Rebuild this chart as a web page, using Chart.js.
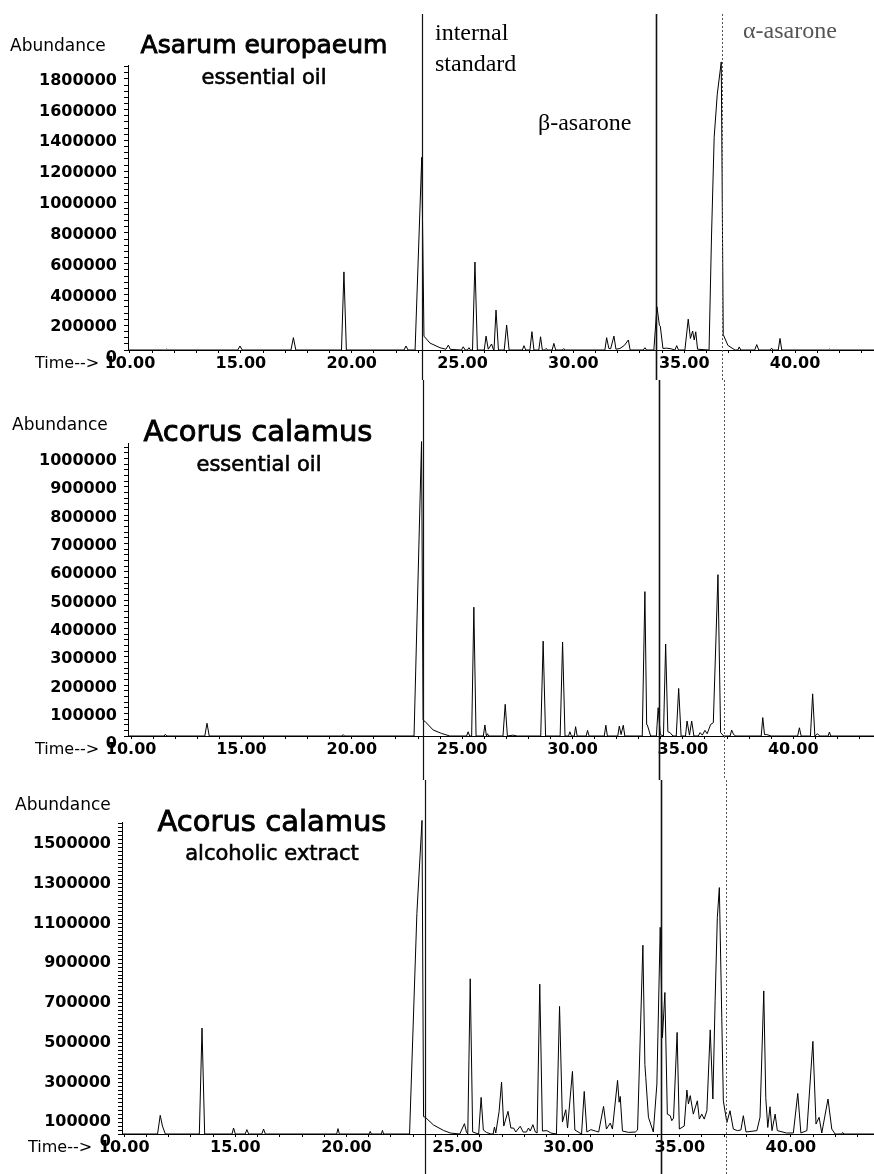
<!DOCTYPE html>
<html>
<head>
<meta charset="utf-8">
<script src="https://cdn.jsdelivr.net/npm/chart.js@4.4.1/dist/chart.umd.min.js"></script>
<style>
    html, body { margin: 0; padding: 0; background: #fff; }
    #page { position: relative; width: 874px; height: 1174px; overflow: hidden; background: #fff; }
    canvas { position: absolute; left: 0; }
</style>
</head>
<body>
<div id="page">
    <canvas id="panel1" width="874" height="380" style="top:0px"></canvas>
    <canvas id="panel2" width="874" height="400" style="top:380px"></canvas>
    <canvas id="panel3" width="874" height="394" style="top:780px"></canvas>
</div>
<script>
// -----------------------------
// Data: [time (min), abundance]
// -----------------------------
const asarumOil = [
    [9.91,0],[11.6,0],[11.65,6000],[11.7,0],
    [14.86,0],[14.96,26000],[15.06,0],
    [17.26,0],[17.37,80000],[17.48,0],
    [19.54,0],[19.65,507000],[19.76,0],
    [22.36,0],[22.45,26000],[22.54,0],
    [22.86,0],[23.16,1251000],[23.26,90000],[23.53,45000],[23.98,15000],[24.25,5000],[24.36,32000],[24.45,4000],
    [24.95,0],[25.03,21000],[25.12,0],[25.22,0],[25.29,15000],[25.36,0],
    [25.45,0],[25.56,571000],[25.67,0],
    [25.98,0],[26.06,90000],[26.16,5000],[26.31,39000],[26.4,0],[26.42,0],[26.51,259000],[26.62,0],
    [26.88,0],[26.99,162000],[27.1,0],
    [27.7,0],[27.77,28000],[27.85,0],
    [28.04,0],[28.13,119000],[28.22,0],[28.44,0],[28.52,86000],[28.6,0],[28.7,0],[28.76,10000],[28.85,0],
    [29.04,0],[29.12,43000],[29.2,0],[29.5,0],[29.55,8000],[29.65,0],
    [31.42,0],[31.5,80000],[31.6,10000],[31.68,8000],[31.83,90000],[31.92,5000],
    [32.1,10000],[32.3,30000],[32.48,65000],[32.56,0],
    [33.15,0],[33.23,15000],[33.3,0],
    [33.63,0],[33.77,280000],[33.88,160000],[33.92,155000],[34.04,10000],[34.2,12000],[34.4,8000],[34.58,0],[34.66,28000],[34.74,0],
    [35.03,0],[35.18,200000],[35.28,75000],[35.38,123000],[35.45,65000],[35.52,118000],[35.6,5000],
    [36.12,0],[36.23,734000],[36.35,1380000],[36.49,1660000],[36.67,1870000],[36.76,100000],[36.97,30000],[37.29,0],
    [37.42,0],[37.48,20000],[37.55,0],
    [38.18,0],[38.27,35000],[38.36,0],
    [38.88,0],[38.94,12000],[39.0,0],
    [39.24,0],[39.32,75000],[39.4,0],
    [41.5,0],[41.55,6000],[41.6,0],[43.56,0]
];

const calamusOil = [
    [9.86,0],[11.5,0],[11.55,6000],[11.62,0],
    [13.34,0],[13.44,45000],[13.54,0],
    [19.55,0],[19.61,5000],[19.67,0],
    [22.82,0],[23.16,1040000],[23.23,56000],[23.31,52000],[23.69,21000],[24.07,9000],[24.44,0],
    [25.2,0],[25.27,15000],[25.34,0],
    [25.43,0],[25.53,455000],[25.63,0],
    [25.96,0],[26.03,39000],[26.1,0],[26.15,8000],[26.2,0],
    [26.85,0],[26.95,112000],[27.05,0],
    [27.3,3000],[27.5,0],
    [28.56,0],[28.67,335000],[28.78,0],
    [29.44,0],[29.55,332000],[29.66,0],
    [29.82,0],[29.88,15000],[29.95,0],
    [30.08,0],[30.14,33000],[30.21,0],
    [30.62,0],[30.68,20000],[30.75,0],
    [31.44,0],[31.51,38000],[31.58,0],
    [32.05,0],[32.12,35000],[32.2,5000],[32.3,38000],[32.37,0],
    [33.16,0],[33.28,510000],[33.36,40000],[33.39,39000],[33.54,0],
    [33.8,0],[33.88,100000],[33.98,5000],
    [34.12,0],[34.22,325000],[34.32,15000],[34.42,12000],[34.55,0],
    [34.7,0],[34.81,168000],[34.92,0],
    [35.12,0],[35.19,53000],[35.3,3000],[35.4,53000],[35.5,0],
    [35.7,0],[35.78,12000],[35.88,3000],[36.0,20000],[36.1,8000],[36.26,41000],[36.38,47000],[36.59,570000],[36.71,12000],[36.85,0],
    [37.14,0],[37.21,21000],[37.3,5000],[37.4,0],
    [38.55,0],[38.62,65000],[38.7,5000],[38.8,5000],[39.0,0],
    [40.2,0],[40.28,29000],[40.36,0],
    [40.78,0],[40.88,149000],[40.98,0],[41.1,8000],[41.2,0],
    [41.58,0],[41.64,14000],[41.7,0],[43.66,0]
];

const calamusExtract = [
    [9.9,0],[11.5,0],[11.62,94000],[11.72,40000],[11.85,0],
    [13.38,0],[13.5,533000],[13.62,0],
    [14.85,0],[14.92,30000],[15.0,0],
    [15.44,0],[15.52,22000],[15.6,0],
    [16.19,0],[16.27,25000],[16.35,0],
    [19.56,0],[19.62,27000],[19.68,0],
    [21.02,0],[21.07,13000],[21.12,0],
    [21.57,0],[21.62,18000],[21.67,0],
    [22.84,0],[23.17,1110000],[23.4,1578000],[23.47,87000],[23.54,85000],[23.92,45000],[24.37,18000],[24.67,5000],[25.1,0],
    [25.31,52000],[25.4,10000],
    [25.46,0],[25.57,781000],[25.68,10000],
    [25.95,0],[26.06,184000],[26.16,20000],[26.3,8000],[26.5,0],
    [26.6,0],[26.66,35000],[26.72,5000],[26.87,114000],[26.98,261000],[27.08,40000],[27.27,114000],[27.4,30000],[27.52,30000],[27.62,10000],
    [27.82,39000],[27.95,10000],[28.1,10000],[28.19,30000],[28.27,15000],[28.39,47000],[28.5,10000],
    [28.58,5000],[28.7,754000],[28.82,15000],[29.02,17000],[29.2,5000],
    [29.45,0],[29.59,642000],[29.72,60000],[29.87,122000],[29.95,30000],[30.17,315000],[30.28,20000],
    [30.58,0],[30.7,214000],[30.82,10000],[31.0,22000],[31.2,15000],[31.35,10000],
    [31.57,139000],[31.7,25000],[31.87,55000],[31.97,25000],[32.2,270000],[32.27,160000],[32.32,189000],[32.42,15000],
    [32.7,8000],[33.0,10000],[33.1,20000],[33.34,950000],[33.43,350000],[33.47,285000],[33.59,84000],[33.81,10000],
    [33.97,251000],[34.12,1040000],[34.22,485000],[34.33,712000],[34.44,100000],[34.57,92000],[34.64,67000],[34.72,80000],
    [34.88,511000],[34.98,25000],
    [35.2,40000],[35.32,221000],[35.39,151000],[35.47,193000],[35.61,100000],[35.79,167000],[35.88,75000],[35.99,100000],[36.1,75000],[36.22,117000],
    [36.37,524000],[36.49,176000],[36.59,670000],[36.69,1090000],[36.78,1240000],[36.89,586000],[36.96,167000],[37.12,58000],[37.26,117000],[37.41,25000],[37.59,17000],
    [37.75,20000],[37.86,92000],[37.98,10000],
    [38.47,17000],[38.61,84000],[38.78,720000],[38.87,184000],[38.96,33000],[39.06,137000],[39.15,17000],[39.29,100000],[39.39,17000],[39.8,5000],[40.11,5000],
    [40.31,204000],[40.45,5000],[40.72,17000],[40.99,466000],[41.13,50000],[41.27,84000],[41.39,5000],[41.67,176000],[41.84,25000],[41.99,0],
    [42.28,0],[42.33,8000],[42.38,0],[43.74,0]
];

// tick labels
const timeLabels = [10, 15, 20, 25, 30, 35, 40];
const abundLabels1 = [0, 200000, 400000, 600000, 800000, 1000000, 1200000, 1400000, 1600000, 1800000];
const abundLabels2 = [0, 100000, 200000, 300000, 400000, 500000, 600000, 700000, 800000, 900000, 1000000];
const abundLabels3 = [0, 100000, 300000, 500000, 700000, 900000, 1100000, 1300000, 1500000];

// retention times of the marker lines (internal standard, beta-asarone, alpha-asarone) in each run
const markers1 = [23.16, 33.74, 36.69];
const markers2 = [23.23, 33.92, 36.86];
const markers3 = [23.54, 34.16, 37.09];

// -----------------------------
// Plugins: marker lines and free text
// -----------------------------
const markerStyles = [
    { color: '#111', width: 1.2, dash: [] },
    { color: '#111', width: 1.6, dash: [] },
    { color: '#555', width: 1, dash: [2, 2] }
];

const markerLines = {
    id: 'markerLines',
    afterDatasetsDraw(chart, args, opts) {
        const ctx = chart.ctx;
        const xs = chart.scales.x;
        ctx.save();
        opts.times.forEach((t, i) => {
            const st = markerStyles[i];
            const px = Math.round(xs.getPixelForValue(t)) + 0.5;
            ctx.strokeStyle = st.color;
            ctx.lineWidth = st.width;
            ctx.setLineDash(st.dash);
            ctx.beginPath();
            ctx.moveTo(px, opts.top || 0);
            ctx.lineTo(px, chart.height);
            ctx.stroke();
        });
        ctx.restore();
    }
};

const panelText = {
    id: 'panelText',
    afterDraw(chart, args, opts) {
        const ctx = chart.ctx;
        ctx.save();
        opts.items.forEach(it => {
            ctx.font = it.font;
            ctx.fillStyle = it.color || '#000';
            ctx.textAlign = it.align || 'left';
            ctx.textBaseline = 'alphabetic';
            ctx.fillText(it.text, it.x, it.y);
            // titles are printed a little heavier than the regular face
            if (it.heavy) {
                ctx.strokeStyle = it.color || '#000';
                ctx.lineWidth = it.heavy;
                ctx.strokeText(it.text, it.x, it.y);
            }
        });
        ctx.restore();
    }
};

// -----------------------------
// Builds one chromatogram panel
// -----------------------------
function Crear_Panel(canvasId, series, cfg) {
    const tickFont = { family: 'DejaVu Sans', size: 16, weight: 'bold' };
    return new Chart(document.getElementById(canvasId), {
        type: 'line',
        data: {
            datasets: [{
                data: series.map(p => ({ x: p[0], y: p[1] })),
                borderColor: '#000',
                borderWidth: 1,
                pointRadius: 0,
                tension: 0,
                fill: false,
                clip: false
            }]
        },
        options: {
            responsive: false,
            animation: false,
            events: [],
            layout: { padding: { top: cfg.top, right: 0, bottom: 0, left: 0 } },
            plugins: {
                legend: { display: false },
                tooltip: { enabled: false },
                markerLines: { times: cfg.markers, top: cfg.markerTop },
                panelText: { items: cfg.texts }
            },
            scales: {
                x: {
                    type: 'linear',
                    min: cfg.xMin,
                    max: cfg.xMax,
                    afterFit: s => { s.height = cfg.xHeight; },
                    afterBuildTicks: s => {
                        const out = [];
                        for (let v = Math.ceil(s.min); v <= s.max; v++) out.push({ value: v });
                        s.ticks = out;
                    },
                    border: { color: '#000', width: 1 },
                    grid: { drawOnChartArea: false, color: '#000', tickLength: 3 },
                    ticks: {
                        autoSkip: false,
                        maxRotation: 0,
                        padding: 1,
                        color: '#000',
                        font: tickFont,
                        callback: v => timeLabels.includes(v) ? v.toFixed(2) : ''
                    }
                },
                y: {
                    type: 'linear',
                    min: 0,
                    max: cfg.yMax,
                    afterFit: s => { s.width = cfg.yWidth; },
                    afterBuildTicks: s => {
                        const out = [];
                        for (let i = 0; i * cfg.yStep <= cfg.yMax; i++) out.push({ value: i * cfg.yStep });
                        s.ticks = out;
                    },
                    border: { color: '#000', width: 1 },
                    grid: { drawOnChartArea: false, color: '#000', tickLength: 4 },
                    ticks: {
                        autoSkip: false,
                        padding: 7,
                        labelOffset: 8,
                        color: '#000',
                        font: tickFont,
                        callback: v => cfg.yLabels.includes(Math.round(v)) ? String(Math.round(v)) : ''
                    }
                }
            }
        },
        plugins: [markerLines, panelText]
    });
}

const sans = '"DejaVu Sans", sans-serif';
const serif = '24px "Liberation Serif", serif';

Crear_Panel('panel1', asarumOil, {
    top: 65, xHeight: 30, yWidth: 128,
    xMin: 9.91, xMax: 43.56, yMax: 1850000, yStep: 40000, yLabels: abundLabels1,
    markers: markers1, markerTop: 14,
    texts: [
        { text: 'Abundance', x: 10, y: 51, font: '17px ' + sans },
        { text: 'Asarum europaeum', x: 264, y: 53, font: '25px ' + sans, align: 'center', heavy: 0.9 },
        { text: 'essential oil', x: 264, y: 84, font: '21px ' + sans, align: 'center', heavy: 0.6 },
        { text: 'Time-->', x: 35, y: 368, font: '16px ' + sans },
        { text: 'internal', x: 435, y: 40, font: serif },
        { text: 'standard', x: 435, y: 71, font: serif },
        { text: 'β-asarone', x: 538, y: 130, font: serif },
        { text: 'α-asarone', x: 743, y: 38, font: serif, color: '#555' }
    ]
});

Crear_Panel('panel2', calamusOil, {
    top: 63, xHeight: 44, yWidth: 128,
    xMin: 9.86, xMax: 43.66, yMax: 1035000, yStep: 20000, yLabels: abundLabels2,
    markers: markers2, markerTop: 0,
    texts: [
        { text: 'Abundance', x: 12, y: 50, font: '17px ' + sans },
        { text: 'Acorus calamus', x: 258, y: 61, font: '29px ' + sans, align: 'center', heavy: 0.9 },
        { text: 'essential oil', x: 259, y: 91, font: '21px ' + sans, align: 'center', heavy: 0.6 },
        { text: 'Time-->', x: 35, y: 374, font: '16px ' + sans }
    ]
});

Crear_Panel('panel3', calamusExtract, {
    top: 42, xHeight: 40, yWidth: 122,
    xMin: 9.9, xMax: 43.74, yMax: 1570000, yStep: 20000, yLabels: abundLabels3,
    markers: markers3, markerTop: 0,
    texts: [
        { text: 'Abundance', x: 15, y: 30, font: '17px ' + sans },
        { text: 'Acorus calamus', x: 272, y: 51, font: '29px ' + sans, align: 'center', heavy: 0.9 },
        { text: 'alcoholic extract', x: 272, y: 80, font: '21px ' + sans, align: 'center', heavy: 0.6 },
        { text: 'Time-->', x: 28, y: 372, font: '16px ' + sans }
    ]
});
</script>
</body>
</html>
